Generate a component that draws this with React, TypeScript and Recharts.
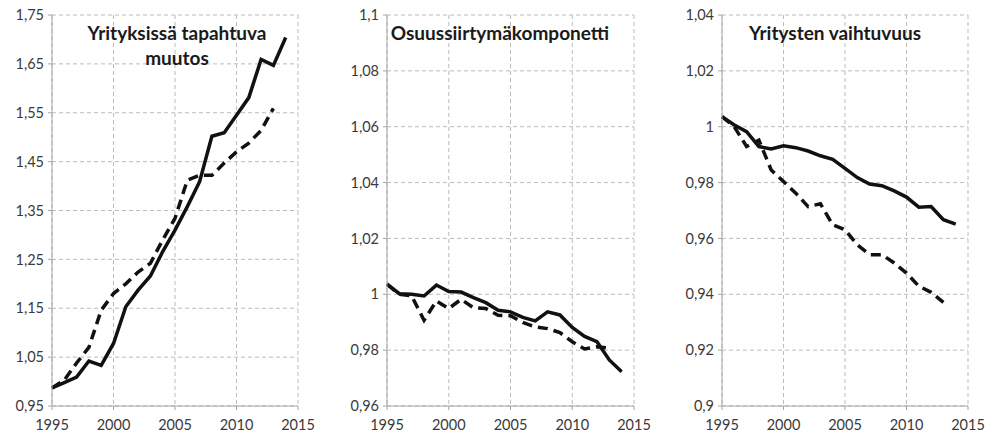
import React from "react";
import { LineChart, Line, XAxis, YAxis, CartesianGrid } from "recharts";

const years = [
  1995, 1996, 1997, 1998, 1999, 2000, 2001, 2002, 2003, 2004,
  2005, 2006, 2007, 2008, 2009, 2010, 2011, 2012, 2013, 2014,
];
const xTicks = [1995, 2000, 2005, 2010, 2015];

// Yrityksissä tapahtuva muutos
const muutosSolid = [
  0.987, 0.998, 1.009, 1.042, 1.033, 1.078, 1.153, 1.187, 1.216, 1.266,
  1.31, 1.358, 1.409, 1.502, 1.509, 1.545, 1.581, 1.659, 1.647, 1.704,
];
const muutosDashed = [
  0.987, 1.003, 1.038, 1.07, 1.146, 1.18, 1.2, 1.224, 1.242, 1.29,
  1.334, 1.412, 1.422, 1.422, 1.447, 1.47, 1.488, 1.514, 1.559,
];
const muutosTicks = [0.95, 1.05, 1.15, 1.25, 1.35, 1.45, 1.55, 1.65, 1.75];

// Osuussiirtymäkomponetti
const osuusSolid = [
  1.0036, 1.0002, 1.0, 0.9994, 1.0033, 1.001, 1.0008, 0.9988, 0.997, 0.9943,
  0.9937, 0.9917, 0.9905, 0.9937, 0.9926, 0.9881, 0.9849, 0.983, 0.9765, 0.9723,
];
const osuusDashed = [
  1.0036, 1.0, 0.9994, 0.9907, 0.9976, 0.9949, 0.9982, 0.9952, 0.9949, 0.9925,
  0.9923, 0.9899, 0.9883, 0.9877, 0.9863, 0.983, 0.9804, 0.9812, 0.9807,
];
const osuusTicks = [0.96, 0.98, 1.0, 1.02, 1.04, 1.06, 1.08, 1.1];

// Yritysten vaihtuvuus
const vaihtSolid = [
  1.0036, 1.0006, 0.9982, 0.9929, 0.992, 0.9932, 0.9925, 0.9913, 0.9896, 0.9883,
  0.9851, 0.9818, 0.9795, 0.9789, 0.977, 0.9748, 0.9712, 0.9714, 0.9667, 0.9651,
];
const vaihtDashed = [
  1.0036, 1.0, 0.9929, 0.9952, 0.9845, 0.9804, 0.9762, 0.9714, 0.9724, 0.9649,
  0.9631, 0.9577, 0.9542, 0.9542, 0.9512, 0.9476, 0.9429, 0.9407, 0.9371,
];
const vaihtTicks = [0.9, 0.92, 0.94, 0.96, 0.98, 1.0, 1.02, 1.04];

const FONT = "Lato, 'Open Sans', sans-serif";
const tickStyle = { fontSize: 14.5, fill: "#3a3a3a", fontFamily: FONT };

const fmt = (v: number) => String(v).replace(".", ",");

function build(solid: number[], dashed: number[]) {
  return years.map((y, i) => ({
    year: y,
    solid: solid[i] ?? null,
    dashed: dashed[i] ?? null,
  }));
}

interface PanelProps {
  left: number;
  width: number;
  axisWidth: number;
  rightMargin: number;
  ticks: number[];
  solid: number[];
  dashed: number[];
  title: string[];
  titleX: number;
}

function Panel({ left, width, axisWidth, rightMargin, ticks, solid, dashed, title, titleX }: PanelProps) {
  const data = build(solid, dashed);
  return (
    <div style={{ position: "absolute", left, top: 0, width, height: 438 }}>
      <LineChart
        width={width}
        height={438}
        data={data}
        margin={{ top: 15, right: rightMargin, bottom: 2, left: 0 }}
      >
        <CartesianGrid stroke="#bcbcbc" strokeDasharray="4 3" />
        <XAxis
          dataKey="year"
          type="number"
          domain={[1995, 2015]}
          ticks={xTicks}
          height={30}
          tickSize={4}
          tickMargin={10}
          axisLine={{ stroke: "#a6a6a6" }}
          tickLine={{ stroke: "#a6a6a6" }}
          tick={tickStyle}
        />
        <YAxis
          type="number"
          domain={[ticks[0], ticks[ticks.length - 1]]}
          ticks={ticks}
          width={axisWidth}
          tickSize={4}
          tickMargin={4}
          tickFormatter={fmt}
          axisLine={{ stroke: "#a6a6a6" }}
          tickLine={{ stroke: "#a6a6a6" }}
          tick={tickStyle}
          allowDataOverflow
        />
        <Line
          dataKey="dashed"
          stroke="#111"
          strokeWidth={3.5}
          strokeDasharray="10 6"
          dot={false}
          isAnimationActive={false}
          connectNulls={false}
        />
        <Line
          dataKey="solid"
          stroke="#111"
          strokeWidth={3.5}
          dot={false}
          isAnimationActive={false}
        />
      </LineChart>
      <div
        style={{
          position: "absolute",
          left: titleX - 150,
          top: 20,
          width: 300,
          textAlign: "center",
          fontFamily: FONT,
          fontWeight: 700,
          fontSize: 19,
          lineHeight: "25px",
          color: "#1a1a1a",
        }}
      >
        {title.map((t) => (
          <div key={t}>{t}</div>
        ))}
      </div>
    </div>
  );
}

export default function App() {
  return (
    <div style={{ position: "fixed", left: 0, top: 0, width: 995, height: 438, background: "#fff" }}>
      <Panel
        left={0}
        width={330}
        axisWidth={52}
        rightMargin={32}
        ticks={muutosTicks}
        solid={muutosSolid}
        dashed={muutosDashed}
        title={["Yrityksissä tapahtuva", "muutos"]}
        titleX={177}
      />
      <Panel
        left={330}
        width={330}
        axisWidth={57}
        rightMargin={26}
        ticks={osuusTicks}
        solid={osuusSolid}
        dashed={osuusDashed}
        title={["Osuussiirtymäkomponetti"]}
        titleX={170}
      />
      <Panel
        left={660}
        width={335}
        axisWidth={62}
        rightMargin={27}
        ticks={vaihtTicks}
        solid={vaihtSolid}
        dashed={vaihtDashed}
        title={["Yritysten vaihtuvuus"]}
        titleX={175}
      />
    </div>
  );
}
